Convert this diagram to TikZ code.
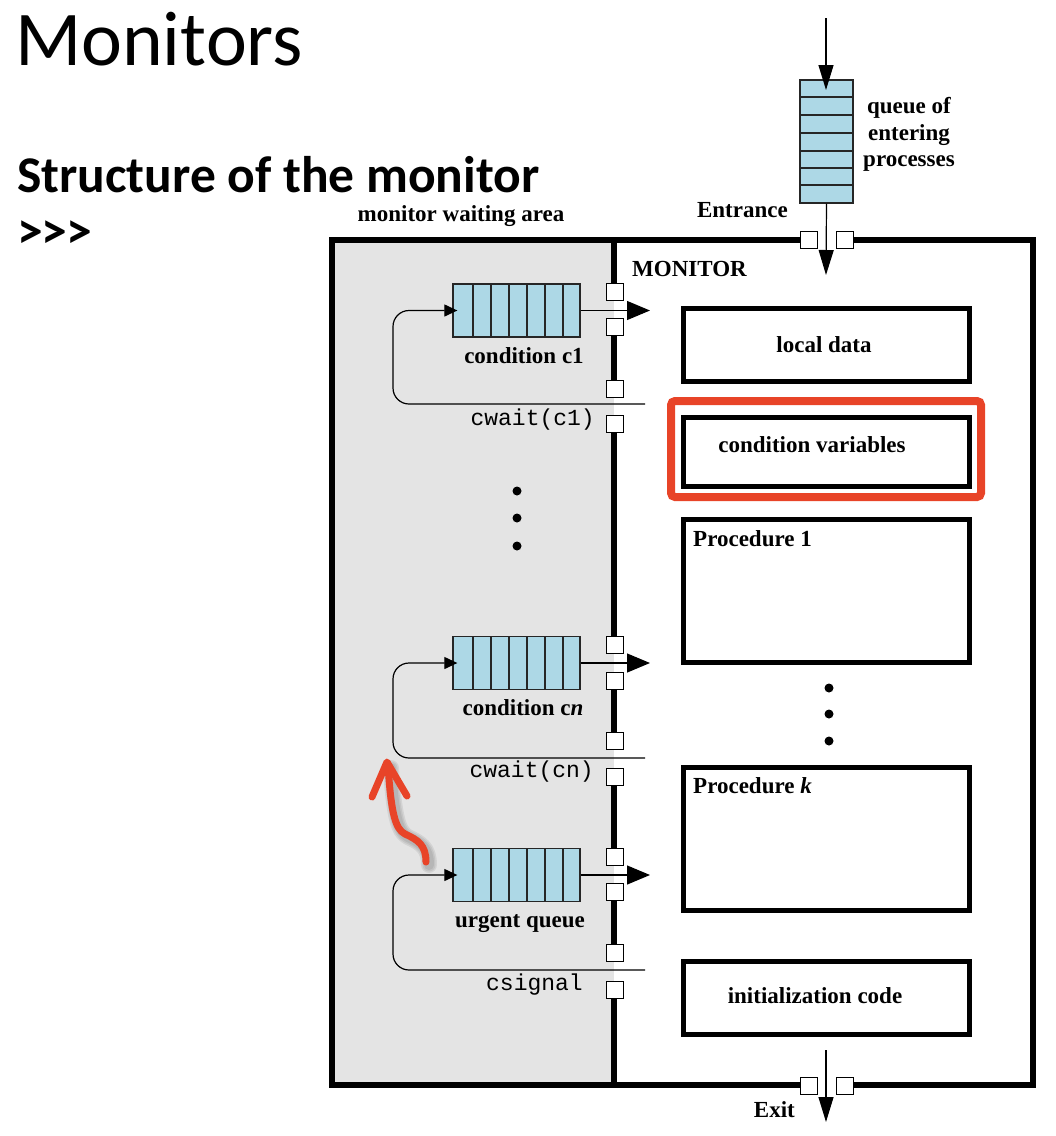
\documentclass[tikz,border=0pt]{standalone}
\usepackage{fontspec}
\setmainfont{Liberation Serif}
\setmonofont{Liberation Mono}
\newfontfamily\calibri{Carlito}
\usetikzlibrary{arrows.meta}
\definecolor{qblue}{RGB}{173,216,230}
\definecolor{wgray}{RGB}{228,228,228}
\definecolor{hred}{RGB}{232,68,40}
\tikzset{
  wall/.style={line width=6pt},
  gate/.style={rectangle, draw, fill=white, line width=1.2pt, minimum size=17pt, inner sep=0pt},
  queue/.style={rectangle, draw=black!85, fill=qblue, line width=1.3pt, inner sep=0pt},
  cell/.style={draw=black!85, line width=1.2pt},
  procbox/.style={rectangle, draw, line width=5pt, inner sep=0pt, minimum width=286pt},
  flow/.style={line width=1.2pt},
  bigtip/.style={flow, -{Triangle[length=23pt,width=19pt]}},
  entertip/.style={flow, -{Triangle[length=25pt,width=15pt]}},
  looptip/.style={flow, rounded corners=16pt, -{Triangle[length=13pt,width=12pt]}, shorten >=-5pt},
  lab/.style={font=\fontsize{23}{26}\selectfont\bfseries, inner sep=0pt},
  codelab/.style={font=\fontsize{23}{26}\selectfont\ttfamily, inner sep=0pt},
  vdot/.style={circle, fill, inner sep=0pt, minimum size=9pt},
  hl/.style={hred, line width=7pt, line cap=round, line join=round},
  hlshadow/.style={black, opacity=0.07, line cap=round, line join=round},
}
\begin{document}
\begin{tikzpicture}[x=1pt,y=-1pt]
\useasboundingbox (0,0) rectangle (1056,1136);

% titles
\node[anchor=base west, inner sep=0pt, font=\calibri\fontsize{77.5}{82}\selectfont] (title) at (15,65) {Monitors};
\node[anchor=base west, inner sep=0pt, font=\calibri\bfseries\fontsize{51.5}{56}\selectfont] (sub) at (17,192) {Structure of the monitor};
\node[anchor=base west, inner sep=0pt, font=\calibri\bfseries\fontsize{51.5}{56}\selectfont] (more) at (17,248) {>\kern-1pt>\kern-1pt>};

% waiting area
\fill[wgray] (332,240) rectangle (614,1085);
\node[lab, anchor=base] (wa) at (461,221) {monitor waiting area};

% outer walls
\draw[wall] (801,240) -- (332,240) -- (332,1085) -- (801,1085);
\draw[wall] (853,240) -- (1033,240) -- (1033,1085) -- (853,1085);

% divider wall segments
\foreach \a/\b in {240/283, 336/380, 433/636, 690/732, 786/848, 901/944, 998/1085}
  \draw[wall] (614,\a) -- (614,\b);

% gates on the divider
\foreach \y [count=\i] in {292,327,389,424,645,681,741,777,857,892,953,990}
  \node[gate] (g\i) at (615,\y) {};

% entrance and exit gates
\node[gate] (en1) at (809,240) {};
\node[gate] (en2) at (845,240) {};
\node[gate] (ex1) at (809,1086) {};
\node[gate] (ex2) at (845,1086) {};

% queue of entering processes
\node[queue, minimum width=53pt, minimum height=123pt] (qe) at (826.5,141.5) {};
\foreach \y in {97,115,133,151,168,185}
  \draw[cell] (800,\y) -- (853,\y);
\coordinate (src) at (826,18);
\coordinate (inn) at (826,275);
\draw[entertip] (src) -- (826,90);
\draw[entertip] (qe.south) -- (inn);
\node[lab, anchor=base east] (ent) at (788,217) {Entrance};
\node[lab, anchor=base] (qt1) at (909,113) {queue of};
\node[lab, anchor=base] (qt2) at (909,140) {entering};
\node[lab, anchor=base] (qt3) at (909,166) {processes};
\node[lab, anchor=base west] (mon) at (632,276) {MONITOR};

% exit
\coordinate (exa) at (826,1050);
\coordinate (exb) at (826,1122);
\draw[entertip] (exa) -- (exb);
\node[lab, anchor=base east] (exit) at (795,1117) {Exit};

% condition queues
\foreach \n/\yc in {q1/310.5, qn/663, qu/875}
  \node[queue, minimum width=127pt, minimum height=53pt] (\n) at (516.5,\yc) {};
\foreach \yt in {284,636,848}
  \foreach \x in {473,491,509,527,545,563}
    \draw[cell] (\x,\yt) -- (\x,\yt+53);

% outgoing arrows through gates
\draw[bigtip] (q1.east) -- (650,310.5);
\draw[bigtip] (qn.east) -- (650,663);
\draw[bigtip] (qu.east) -- (650,875);

% wait / signal loops
\coordinate (w1) at (645,404);
\coordinate (wn) at (645,758);
\coordinate (ws) at (645,970);
\draw[looptip] (w1) -- (393,404) -- (393,310.5) -- (q1.west);
\draw[looptip] (wn) -- (393,758) -- (393,663) -- (qn.west);
\draw[looptip] (ws) -- (393,970) -- (393,875) -- (qu.west);

% labels on the left
\node[lab, anchor=base] (lc1) at (524,363) {condition c1};
\node[codelab, anchor=base east] (cw1) at (595,425) {cwait(c1)};
\node[lab, anchor=base] (lcn) at (523,715) {condition c\textit{n}};
\node[codelab, anchor=base east] (cwn) at (594,777) {cwait(cn)};
\node[lab, anchor=base] (lur) at (520,927) {urgent queue};
\node[codelab, anchor=base east] (csg) at (583,990) {csignal};

% dots
\node[vdot] (ld1) at (517,491) {};
\node[vdot] (ld2) at (517,518) {};
\node[vdot] (ld3) at (517,546) {};
\node[vdot] (rd1) at (829,688) {};
\node[vdot] (rd2) at (829,714) {};
\node[vdot] (rd3) at (829,741) {};

% right-side boxes
\node[procbox, minimum height=73pt] (local) at (826,344.5) {};
\node[lab, anchor=base] (locallab) at (824,352) {local data};
\draw[hred, line width=8pt, rounded corners=4pt] (671,401) rectangle (981,497);
\node[procbox, minimum height=69pt] (cvar) at (826,451.5) {};
\node[lab, anchor=base] (cvarlab) at (812,452) {condition variables};
\node[procbox, minimum height=143pt] (p1) at (826,590.5) {};
\node[lab, anchor=base west] (p1lab) at (693,546) {Procedure 1};
\node[procbox, minimum height=143pt] (pk) at (826,838.5) {};
\node[lab, anchor=base west] (pklab) at (693,793) {Procedure \textit{k}};
\node[procbox, minimum height=73pt] (init) at (826,997.5) {};
\node[lab, anchor=base] (initlab) at (815,1003) {initialization code};

% highlight arrow with a soft shadow
\foreach \w in {16,13,10}
  \draw[hlshadow, line width=\w pt, shift={(3,3)}] (426,862) .. controls (426,845) and (418,840) .. (405,834) .. controls (395,829) and (391,812) .. (388,765);
\draw[hl] (426,862) .. controls (426,845) and (418,840) .. (405,834) .. controls (395,829) and (391,812) .. (388,765);
\draw[hl] (372,797) -- (387,762) -- (407,796);
\end{tikzpicture}
\end{document}
